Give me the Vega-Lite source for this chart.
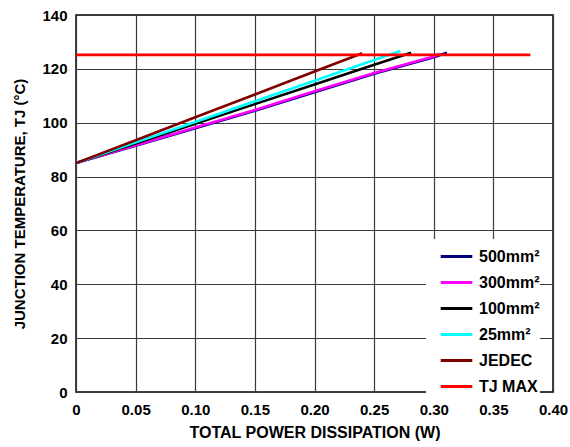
{
  "$schema": "https://vega.github.io/schema/vega-lite/v6.json",
  "width": 477,
  "height": 377,
  "autosize": "none",
  "padding": {"left": 76, "top": 15, "right": 17, "bottom": 55},
  "background": "white",
  "config": {
    "font": "Liberation Sans",
    "view": {"stroke": "black", "strokeWidth": 1.5}
  },
  "data": {
    "values": [
      {"p": 0, "t": 85, "s": "500mm²"},
      {"p": 0.05, "t": 91.4, "s": "500mm²"},
      {"p": 0.10, "t": 97.9, "s": "500mm²"},
      {"p": 0.15, "t": 104.4, "s": "500mm²"},
      {"p": 0.20, "t": 111.3, "s": "500mm²"},
      {"p": 0.25, "t": 118.2, "s": "500mm²"},
      {"p": 0.30, "t": 124.3, "s": "500mm²"},
      {"p": 0.311, "t": 126, "s": "500mm²"},
      {"p": 0, "t": 85, "s": "300mm²"},
      {"p": 0.05, "t": 91.6, "s": "300mm²"},
      {"p": 0.10, "t": 98.2, "s": "300mm²"},
      {"p": 0.15, "t": 104.7, "s": "300mm²"},
      {"p": 0.20, "t": 111.7, "s": "300mm²"},
      {"p": 0.25, "t": 118.5, "s": "300mm²"},
      {"p": 0.30, "t": 124.6, "s": "300mm²"},
      {"p": 0.305, "t": 125.6, "s": "300mm²"},
      {"p": 0, "t": 85, "s": "100mm²"},
      {"p": 0.05, "t": 92.3, "s": "100mm²"},
      {"p": 0.10, "t": 99.6, "s": "100mm²"},
      {"p": 0.15, "t": 106.9, "s": "100mm²"},
      {"p": 0.20, "t": 114.2, "s": "100mm²"},
      {"p": 0.25, "t": 121.5, "s": "100mm²"},
      {"p": 0.281, "t": 126, "s": "100mm²"},
      {"p": 0, "t": 85, "s": "25mm²"},
      {"p": 0.05, "t": 92.7, "s": "25mm²"},
      {"p": 0.10, "t": 100.3, "s": "25mm²"},
      {"p": 0.15, "t": 108.0, "s": "25mm²"},
      {"p": 0.20, "t": 115.6, "s": "25mm²"},
      {"p": 0.25, "t": 123.3, "s": "25mm²"},
      {"p": 0.272, "t": 126.6, "s": "25mm²"},
      {"p": 0, "t": 85, "s": "JEDEC"},
      {"p": 0.05, "t": 93.5, "s": "JEDEC"},
      {"p": 0.10, "t": 102.0, "s": "JEDEC"},
      {"p": 0.15, "t": 110.5, "s": "JEDEC"},
      {"p": 0.20, "t": 119.0, "s": "JEDEC"},
      {"p": 0.240, "t": 125.8, "s": "JEDEC"},
      {"p": 0, "t": 125.2, "s": "TJ MAX"},
      {"p": 0.381, "t": 125.2, "s": "TJ MAX"}
    ]
  },
  "mark": {"type": "line", "strokeWidth": 2.6, "clip": true},
  "encoding": {
    "x": {
      "field": "p",
      "type": "quantitative",
      "scale": {"domain": [0, 0.4], "nice": false},
      "axis": {
        "title": "TOTAL POWER DISSIPATION (W)",
        "values": [0, 0.05, 0.1, 0.15, 0.2, 0.25, 0.3, 0.35, 0.4],
        "labelExpr": "datum.value == 0 ? '0' : format(datum.value, '.2f')",
        "domain": false,
        "ticks": false,
        "grid": true,
        "gridColor": "#3a3a3a",
        "gridWidth": 1.2,
        "gridOpacity": 1,
        "labelFont": "Liberation Sans",
        "labelFontWeight": "bold",
        "labelFontSize": 15,
        "labelColor": "black",
        "labelPadding": 10,
        "labelFlush": false,
        "titleFont": "Liberation Sans",
        "titleFontWeight": "bold",
        "titleFontSize": 16,
        "titleColor": "black",
        "titlePadding": 7
      }
    },
    "y": {
      "field": "t",
      "type": "quantitative",
      "scale": {"domain": [0, 140], "nice": false},
      "axis": {
        "title": "JUNCTION TEMPERATURE, TJ (°C)",
        "values": [0, 20, 40, 60, 80, 100, 120, 140],
        "domain": false,
        "ticks": false,
        "grid": true,
        "gridColor": "#3a3a3a",
        "gridWidth": 1.2,
        "gridOpacity": 1,
        "labelFont": "Liberation Sans",
        "labelFontWeight": "bold",
        "labelFontSize": 15,
        "labelColor": "black",
        "labelPadding": 9,
        "labelFlush": false,
        "titleFont": "Liberation Sans",
        "titleFontWeight": "bold",
        "titleFontSize": 15,
        "titleColor": "black",
        "titlePadding": 14
      }
    },
    "color": {
      "field": "s",
      "type": "nominal",
      "scale": {
        "domain": ["500mm²", "300mm²", "100mm²", "25mm²", "JEDEC", "TJ MAX"],
        "range": ["#000080", "#FF00FF", "#000000", "#00FFFF", "#800000", "#FF0000"]
      },
      "legend": {
        "title": null,
        "orient": "none",
        "legendX": 350,
        "legendY": 224,
        "fillColor": "white",
        "padding": 0,
        "symbolType": "stroke",
        "symbolStrokeWidth": 3,
        "symbolSize": 1000,
        "symbolOffset": 13,
        "labelOffset": 5,
        "labelFont": "Liberation Sans",
        "labelFontWeight": "bold",
        "labelFontSize": 16,
        "labelColor": "black",
        "rowPadding": -10
      }
    }
  }
}
